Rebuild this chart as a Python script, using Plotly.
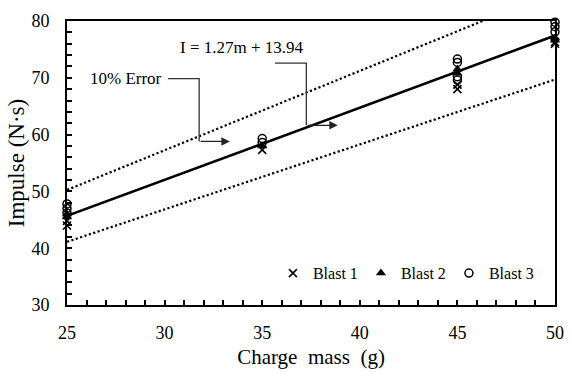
import plotly.graph_objects as go

# ---- data ----
blast1_x = [25, 25, 35, 45, 45, 50, 50]
blast1_y = [44.0, 44.8, 57.3, 68.0, 68.8, 76.0, 76.3]
blast2_x = [25, 25, 35, 45, 45, 50, 50]
blast2_y = [45.5, 46.0, 58.0, 70.8, 71.5, 76.6, 77.0]
blast3_x = [25, 25, 25, 35, 35, 45, 45, 45, 45, 50, 50, 50]
blast3_y = [46.2, 47.0, 47.8, 58.6, 59.3, 69.6, 70.2, 72.7, 73.3, 78.1, 79.0, 79.8]

fit_slope = 1.27
fit_intercept = 13.94
error_frac = 0.10
fit_x = [25, 50]

x_ticks = [25, 30, 35, 40, 45, 50]
y_ticks = [30, 40, 50, 60, 70, 80]

# leader annotation anchor points (data coords)
err_label = "10% Error"
err_path_x = [30.18, 31.77, 31.77]
err_path_y = [69.86, 69.86, 58.79]
err_arrow_tip = (33.34, 58.79)
eq_label = "I = 1.27m + 13.94"
eq_path_x = [35.65, 37.26, 37.26]
eq_path_y = [72.6, 72.6, 61.64]
eq_arrow_tip = (38.87, 61.64)

FONT = "Liberation Serif"

fit_y = [fit_slope * x + fit_intercept for x in fit_x]
up_y = [(1 + error_frac) * y for y in fit_y]
lo_y = [(1 - error_frac) * y for y in fit_y]

fig = go.Figure()
dot = "2.2px,2.4px"
fig.add_trace(go.Scatter(x=fit_x, y=up_y, mode="lines", line=dict(color="black", width=2.2, dash=dot), showlegend=False, hoverinfo="skip"))
fig.add_trace(go.Scatter(x=fit_x, y=lo_y, mode="lines", line=dict(color="black", width=2.2, dash=dot), showlegend=False, hoverinfo="skip"))
fig.add_trace(go.Scatter(x=fit_x, y=fit_y, mode="lines", line=dict(color="black", width=2.6), showlegend=False, hoverinfo="skip"))

fig.add_trace(go.Scatter(x=blast1_x, y=blast1_y, mode="markers", name="Blast 1", cliponaxis=False,
                         marker=dict(symbol="x-thin", size=8, line=dict(color="black", width=1.6), color="black")))
fig.add_trace(go.Scatter(x=blast2_x, y=blast2_y, mode="markers", name="Blast 2", cliponaxis=False,
                         marker=dict(symbol="triangle-up", size=9, color="black")))
fig.add_trace(go.Scatter(x=blast3_x, y=blast3_y, mode="markers", name="Blast 3", cliponaxis=False,
                         marker=dict(symbol="circle-open", size=8, color="black", line=dict(width=1.5))))

# leader lines
for px, py, tip in [(err_path_x, err_path_y, err_arrow_tip), (eq_path_x, eq_path_y, eq_arrow_tip)]:
    path = "M {} {} L {} {} L {} {}".format(px[0], py[0], px[1], py[1], px[2], py[2])
    fig.add_shape(type="path", path=path, xref="x", yref="y", line=dict(color="#333", width=1.3))
    fig.add_annotation(x=tip[0], y=tip[1], ax=px[2], ay=py[2], axref="x", ayref="y", xref="x", yref="y",
                       showarrow=True, arrowhead=2, arrowsize=1.3, arrowwidth=1.3, arrowcolor="#222", text="")

fig.add_annotation(x=err_path_x[0], y=err_path_y[0], xref="x", yref="y", text=err_label, showarrow=False,
                   xanchor="right", xshift=-4, yanchor="middle", font=dict(family=FONT, size=17, color="black"))
fig.add_annotation(x=33.94, y=75.33, xref="x", yref="y", text=eq_label, showarrow=False,
                   xanchor="center", yanchor="middle", font=dict(family=FONT, size=17, color="black"))

fig.update_layout(
    width=571, height=372,
    margin=dict(l=67, r=7, t=21, b=65),
    paper_bgcolor="white", plot_bgcolor="white",
    font=dict(family=FONT, size=17, color="black"),
    legend=dict(orientation="h", x=0.422, y=0.112, xanchor="left", yanchor="middle",
                bgcolor="rgba(0,0,0,0)", font=dict(family=FONT, size=16, color="black"),
                itemwidth=30, entrywidth=43, tracegroupgap=0),
    xaxis=dict(range=[25, 50], tickvals=x_ticks, ticks="inside", ticklen=5, tickwidth=1.5,
               tickcolor="black", showline=True, linecolor="black", linewidth=2, mirror=True,
               showgrid=False, zeroline=False, ticklabelstandoff=10,
               tickfont=dict(family=FONT, size=18),
               minor=dict(dtick=1, ticks="inside", ticklen=5, tickwidth=1.5, tickcolor="black", showgrid=False),
               title=dict(text="Charge  mass  (g)", font=dict(family=FONT, size=21), standoff=8)),
    yaxis=dict(range=[30, 80], tickvals=y_ticks, ticks="inside", ticklen=5, tickwidth=1.5,
               tickcolor="black", showline=True, linecolor="black", linewidth=2, mirror=True,
               showgrid=False, zeroline=False, ticklabelstandoff=12,
               tickfont=dict(family=FONT, size=18),
               minor=dict(dtick=2, ticks="inside", ticklen=5, tickwidth=1.5, tickcolor="black", showgrid=False),
               title=dict(text="Impulse (N·s)", font=dict(family=FONT, size=23), standoff=0)),
)

fig.write_html("out.html")
